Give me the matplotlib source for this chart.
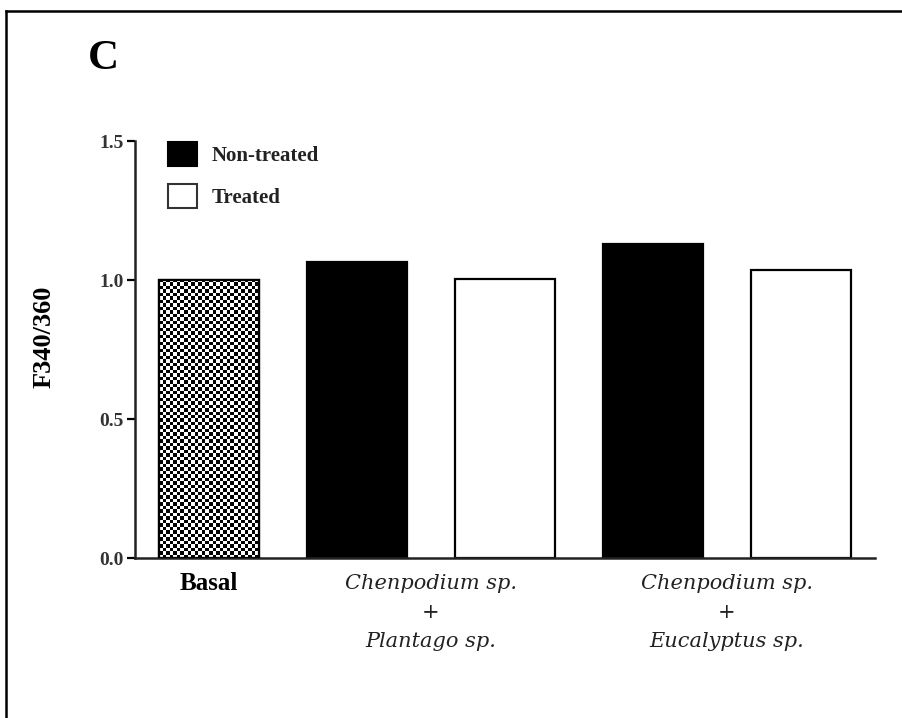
import numpy as np
import matplotlib
matplotlib.use("Agg")
import matplotlib.pyplot as plt
from matplotlib.patches import Patch
from matplotlib.lines import Line2D

# data
conditions = ["Basal", "Chenpodium+Plantago NT", "Chenpodium+Plantago T",
              "Chenpodium+Eucalyptus NT", "Chenpodium+Eucalyptus T"]
values = [1.00, 1.065, 1.005, 1.13, 1.035]
kinds = ["basal", "non", "treated", "non", "treated"]
yticks = [0.0, 0.5, 1.0, 1.5]
ytick_labels = ["0.0", "0.5", "1.0", "1.5"]
group_labels = [("Chenpodium sp.", "Plantago sp."),
                ("Chenpodium sp.", "Eucalyptus sp.")]

fig = plt.figure(figsize=(9.03, 7.18), dpi=100)
ax = fig.add_axes([0.1495, 0.2228, 0.8195, 0.5808])

x = np.arange(len(values))
colors = {"basal": "white", "non": "black", "treated": "white"}
bars = ax.bar(x, values, width=0.675, color=[colors[k] for k in kinds],
              edgecolor="black", linewidth=1.6, zorder=2)

# checkered fill for the basal bar
checker = np.indices((80, 28)).sum(axis=0) % 2
b = bars[0]
img = ax.imshow(checker, cmap="gray", vmin=0, vmax=1.0,
                interpolation="nearest", aspect="auto",
                extent=(b.get_x(), b.get_x() + b.get_width(), 0, b.get_height()),
                zorder=2.5)
img.set_clip_path(b)
ax.bar(x[0], values[0], width=0.675, fill=False, edgecolor="black",
       linewidth=1.6, zorder=3)

ax.set_xlim(-0.5, 4.5)
ax.set_ylim(0, 1.5)
ax.set_yticks(yticks)
ax.set_yticklabels(ytick_labels, fontfamily="Liberation Serif",
                   fontweight="bold", fontsize=14, color="#333333")
ax.set_xticks([])
ax.tick_params(axis="y", direction="out", length=6, width=1.6, pad=2)
for s in ["top", "right"]:
    ax.spines[s].set_visible(False)
for s in ["left", "bottom"]:
    ax.spines[s].set_linewidth(1.8)
    ax.spines[s].set_color("#222222")

ax.set_ylabel("F340/360", fontfamily="Liberation Serif", fontweight="bold",
              fontsize=19)
ax.yaxis.set_label_coords(-0.108, 0.53)

# category labels
ax.text(x[0], -0.09, "Basal", ha="center", va="center",
        fontfamily="Liberation Serif", fontweight="bold", fontsize=18)
for i, (top, bottom) in enumerate(group_labels):
    cx = (x[1 + 2 * i] + x[2 + 2 * i]) / 2
    ax.text(cx, -0.09, top, ha="center", va="center", style="italic",
            fontfamily="DejaVu Serif", fontsize=15, color="#222222")
    ax.text(cx, -0.195, "+", ha="center", va="center",
            fontfamily="DejaVu Serif", fontsize=15, color="#222222")
    ax.text(cx, -0.30, bottom, ha="center", va="center", style="italic",
            fontfamily="DejaVu Serif", fontsize=15, color="#222222")

handles = [Patch(facecolor="black", edgecolor="black", linewidth=1.5),
           Patch(facecolor="white", edgecolor="#333333", linewidth=1.5)]
ax.legend(handles, ["Non-treated", "Treated"], loc="upper left",
          bbox_to_anchor=(0.019, 1.042), frameon=False, handlelength=1.4,
          handleheight=1.4, labelspacing=0.85, handletextpad=0.7,
          labelcolor="#222222",
          prop={"family": "Liberation Serif", "weight": "bold", "size": 15})

# panel letter and outer frame
fig.text(0.097, 0.918, "C", fontfamily="Liberation Serif", fontweight="bold",
         fontsize=31, ha="left", va="center")
fig.add_artist(Line2D([0.007, 1.0], [0.985, 0.985], color="black", lw=1.8))
fig.add_artist(Line2D([0.007, 0.007], [0.0, 0.985], color="black", lw=1.8))

fig.savefig("out.png", dpi=100)
